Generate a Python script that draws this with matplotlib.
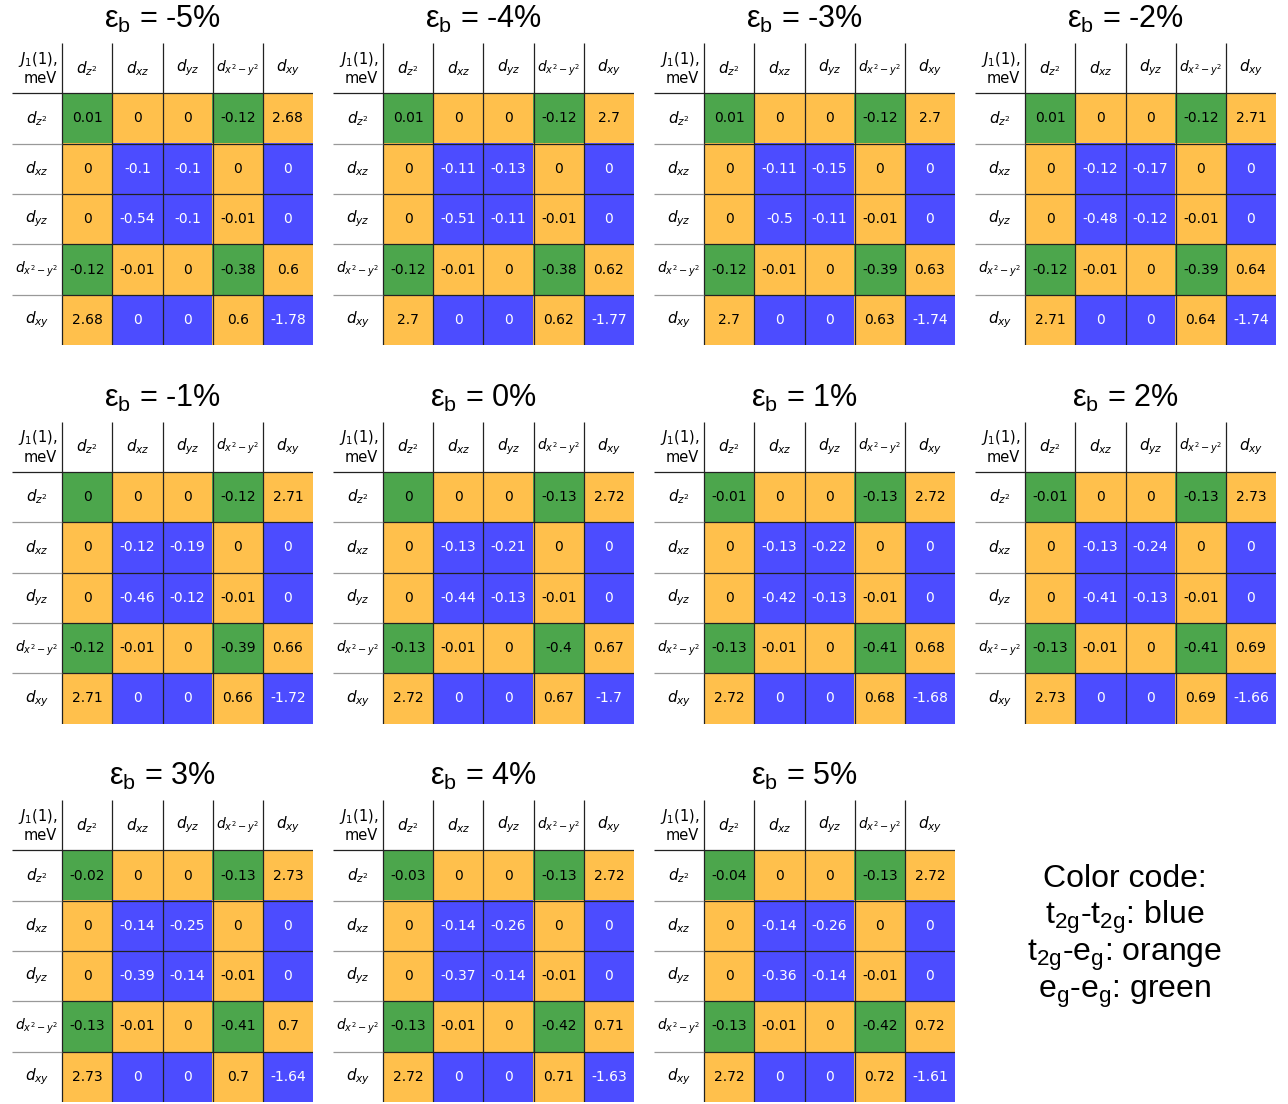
import numpy as np
import matplotlib.pyplot as plt
from matplotlib.colors import to_rgb

# strain values (%) and J1(1) matrices in meV, rows/cols: z2, xz, yz, x2-y2, xy
strains = [-5, -4, -3, -2, -1, 0, 1, 2, 3, 4, 5]

J_m5 = [[0.01, 0, 0, -0.12, 2.68],
        [0, -0.1, -0.1, 0, 0],
        [0, -0.54, -0.1, -0.01, 0],
        [-0.12, -0.01, 0, -0.38, 0.6],
        [2.68, 0, 0, 0.6, -1.78]]
J_m4 = [[0.01, 0, 0, -0.12, 2.7],
        [0, -0.11, -0.13, 0, 0],
        [0, -0.51, -0.11, -0.01, 0],
        [-0.12, -0.01, 0, -0.38, 0.62],
        [2.7, 0, 0, 0.62, -1.77]]
J_m3 = [[0.01, 0, 0, -0.12, 2.7],
        [0, -0.11, -0.15, 0, 0],
        [0, -0.5, -0.11, -0.01, 0],
        [-0.12, -0.01, 0, -0.39, 0.63],
        [2.7, 0, 0, 0.63, -1.74]]
J_m2 = [[0.01, 0, 0, -0.12, 2.71],
        [0, -0.12, -0.17, 0, 0],
        [0, -0.48, -0.12, -0.01, 0],
        [-0.12, -0.01, 0, -0.39, 0.64],
        [2.71, 0, 0, 0.64, -1.74]]
J_m1 = [[0, 0, 0, -0.12, 2.71],
        [0, -0.12, -0.19, 0, 0],
        [0, -0.46, -0.12, -0.01, 0],
        [-0.12, -0.01, 0, -0.39, 0.66],
        [2.71, 0, 0, 0.66, -1.72]]
J_0 = [[0, 0, 0, -0.13, 2.72],
       [0, -0.13, -0.21, 0, 0],
       [0, -0.44, -0.13, -0.01, 0],
       [-0.13, -0.01, 0, -0.4, 0.67],
       [2.72, 0, 0, 0.67, -1.7]]
J_p1 = [[-0.01, 0, 0, -0.13, 2.72],
        [0, -0.13, -0.22, 0, 0],
        [0, -0.42, -0.13, -0.01, 0],
        [-0.13, -0.01, 0, -0.41, 0.68],
        [2.72, 0, 0, 0.68, -1.68]]
J_p2 = [[-0.01, 0, 0, -0.13, 2.73],
        [0, -0.13, -0.24, 0, 0],
        [0, -0.41, -0.13, -0.01, 0],
        [-0.13, -0.01, 0, -0.41, 0.69],
        [2.73, 0, 0, 0.69, -1.66]]
J_p3 = [[-0.02, 0, 0, -0.13, 2.73],
        [0, -0.14, -0.25, 0, 0],
        [0, -0.39, -0.14, -0.01, 0],
        [-0.13, -0.01, 0, -0.41, 0.7],
        [2.73, 0, 0, 0.7, -1.64]]
J_p4 = [[-0.03, 0, 0, -0.13, 2.72],
        [0, -0.14, -0.26, 0, 0],
        [0, -0.37, -0.14, -0.01, 0],
        [-0.13, -0.01, 0, -0.42, 0.71],
        [2.72, 0, 0, 0.71, -1.63]]
J_p5 = [[-0.04, 0, 0, -0.13, 2.72],
        [0, -0.14, -0.26, 0, 0],
        [0, -0.36, -0.14, -0.01, 0],
        [-0.13, -0.01, 0, -0.42, 0.72],
        [2.72, 0, 0, 0.72, -1.61]]

matrices = [J_m5, J_m4, J_m3, J_m2, J_m1, J_0, J_p1, J_p2, J_p3, J_p4, J_p5]

orb_labels = [r'$d_{z^2}$', r'$d_{xz}$', r'$d_{yz}$', r'$d_{x^2-y^2}$', r'$d_{xy}$']
orb_type = ['eg', 't2g', 't2g', 'eg', 't2g']

# pure colours at alpha 0.7 on white
col_blue = '#4c4cff'
col_orange = '#ffc04c'
col_green = '#4ca64c'


def pair_color(a, b):
    if a == 't2g' and b == 't2g':
        return col_blue
    if a == 'eg' and b == 'eg':
        return col_green
    return col_orange


rgb = np.array([[to_rgb(pair_color(a, b)) for b in orb_type] for a in orb_type])

W, H = 1288, 1104
fig = plt.figure(figsize=(W / 100, H / 100), dpi=100)

for k, (s, M) in enumerate(zip(strains, matrices)):
    c, r = k % 4, k // 4
    left = 12 + 321 * c
    top = 43 + 378.5 * r
    ax = fig.add_axes([left / W, 1 - (top + 302) / H, 301 / W, 302 / H])
    ax.imshow(rgb, extent=(-0.5, 4.5, 4.5, -0.5), interpolation='nearest', aspect='auto')
    ax.set_xlim(-1.5, 4.5)
    ax.set_ylim(4.5, -1.5)
    ax.axis('off')

    # grid
    ax.vlines([-0.5, 0.5, 1.5, 2.5, 3.5], -1.5, 4.5, color='#222222', lw=0.9)
    ax.hlines(-0.5, -1.5, 4.5, color='#222222', lw=0.9)
    ax.hlines([0.5, 1.5, 2.5, 3.5], -1.5, -0.5, color='#999999', lw=0.9)
    ax.hlines([0.5, 1.5, 2.5, 3.5], -0.5, 4.5, color='#222222', lw=0.9)

    ax.text(-0.6, -1, '$J_1$(1),\nmeV', ha='right', va='center',
            multialignment='right', fontsize=10.5)
    for i, lab in enumerate(orb_labels):
        fs = 10 if i == 3 else 11
        ax.text(i, -1, lab, ha='center', va='center', fontsize=fs)
        ax.text(-1, i, lab, ha='center', va='center', fontsize=fs)

    for i in range(5):
        for j in range(5):
            v = M[i][j]
            tc = 'white' if pair_color(orb_type[i], orb_type[j]) == col_blue else 'black'
            ax.text(j, i, f'{v:g}', ha='center', va='center', fontsize=10, color=tc)

    fig.text((left + 150.5) / W, 1 - (28 + 378.5 * r) / H,
             'ε$_{\\mathregular{b}}$ = ' + f'{s}%', ha='center', va='baseline',
             fontsize=22, family='Liberation Sans')

code_lines = ['Color code:',
              't$_{\\mathregular{2g}}$-t$_{\\mathregular{2g}}$: blue',
              't$_{\\mathregular{2g}}$-e$_{\\mathregular{g}}$: orange',
              'e$_{\\mathregular{g}}$-e$_{\\mathregular{g}}$: green']
for n, line in enumerate(code_lines):
    fig.text(1125 / W, 1 - (887 + 37 * n) / H, line, ha='center', va='baseline',
             fontsize=23, family='Liberation Sans')

fig.savefig('out.png', dpi=100)
